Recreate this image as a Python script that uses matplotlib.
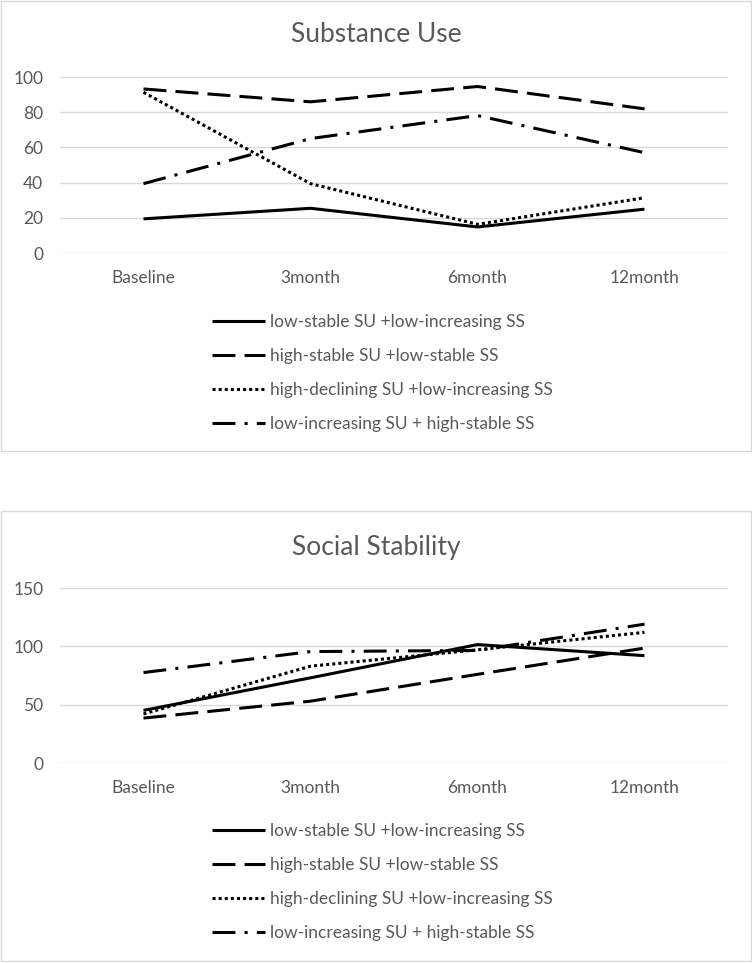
import matplotlib.pyplot as plt
from matplotlib.patches import Rectangle

# data
timepoints = ["Baseline", "3month", "6month", "12month"]
groups = [
    "low-stable SU +low-increasing SS",
    "high-stable SU +low-stable SS",
    "high-declining SU +low-increasing SS",
    "low-increasing SU + high-stable SS",
]
substance_use = [
    [19.4, 25.4, 14.8, 24.9],
    [93.2, 85.9, 94.6, 81.9],
    [91.3, 39.4, 16.3, 31.4],
    [39.4, 65.0, 78.1, 57.0],
]
social_stability = [
    [45.1, 73.0, 101.5, 92.0],
    [38.5, 53.0, 76.0, 98.5],
    [42.0, 83.0, 97.0, 112.0],
    [77.5, 95.5, 96.5, 119.0],
]

TEXT = "#595959"
GRID = "#d9d9d9"
W, H = 752, 963

plt.rcParams["font.family"] = ["Lato", "DejaVu Sans"]

# excel-like line styles (in linewidth units)
styles = [
    dict(linestyle="-"),
    dict(linestyle=(0, (7.5, 3))),
    dict(linestyle=(0, (1, 1))),
    dict(linestyle=(0, (7.5, 3, 1, 3))),
]

fig = plt.figure(figsize=(W / 100, H / 100), dpi=100)


def fx(px):
    return px / W


def fy(py):
    return 1 - py / H


def panel(box, ax_box, title, values, ymax, ystep, title_y, leg_y):
    # chart frame
    x0, y0, x1, y1 = box
    fig.patches.append(Rectangle((fx(x0), fy(y1)), fx(x1 - x0), (y1 - y0) / H,
                                 transform=fig.transFigure, fill=False,
                                 edgecolor=GRID, linewidth=1))
    l, t, r, b = ax_box
    ax = fig.add_axes([fx(l), fy(b), fx(r - l), (b - t) / H])
    xs = range(len(timepoints))
    lines = []
    for name, vals, st in zip(groups, values, styles):
        ln, = ax.plot(xs, vals, color="black", linewidth=2.2, label=name,
                      solid_capstyle="butt", dash_capstyle="butt", **st)
        lines.append(ln)
    ax.set_xlim(-0.5, len(timepoints) - 0.5)
    ax.set_ylim(0, ymax)
    ax.set_yticks(range(0, ymax + 1, ystep))
    ax.set_xticks(list(xs))
    ax.set_xticklabels(timepoints)
    ax.grid(axis="y", color=GRID, linewidth=1)
    ax.set_axisbelow(True)
    for s in ax.spines.values():
        s.set_visible(False)
    ax.tick_params(length=0, labelsize=12.5, colors=TEXT)
    ax.tick_params(axis="y", pad=12)
    ax.tick_params(axis="x", pad=12)
    fig.text(0.5, fy(title_y), title, ha="center", va="center",
             fontsize=19, color=TEXT)
    fig.legend(handles=lines, loc="upper left",
               bbox_to_anchor=(fx(196), fy(leg_y)), frameon=False,
               fontsize=12.5, labelcolor=TEXT, handlelength=3.1,
               handletextpad=0.25, labelspacing=1.04)
    return ax


panel((1, 1, 751, 451), (60, 77, 728, 253), "Substance Use",
      substance_use, 100, 20, 35, 298)
panel((1, 511, 751, 961), (60, 588, 728, 763), "Social Stability",
      social_stability, 150, 50, 547, 807)

plt.savefig("out.png", dpi=100)
